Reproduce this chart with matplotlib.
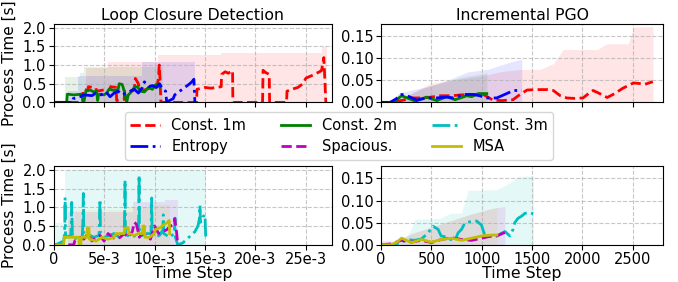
import numpy as np
import matplotlib
matplotlib.use('Agg')
import matplotlib.pyplot as plt

# ---- Loop closure detection, top row (Const. 1m / 2m / Entropy) ----
lcd_1m_x = [0, 290, 292, 340, 345, 420, 425, 560, 565, 620,
            625, 700, 705, 780, 800, 810, 840, 850, 900, 950,
            1000, 1030, 1040, 1047, 1055, 1063, 1417, 1420, 1500, 1560,
            1620, 1660, 1665, 1700, 1730, 1773, 1776, 2070, 2075, 2100,
            2136, 2140, 2308, 2312, 2360, 2420, 2470, 2500, 2560, 2620,
            2654, 2677, 2697]
lcd_1m_y = [0, 0, 0.35, 0.32, 0.42, 0.38, 0.3, 0.36, 0.42, 0.4,
            0.05, 0.08, 0.3, 0.3, 0.35, 0.64, 0.5, 0.35, 0.33, 0.38,
            0.35, 0.5, 0.7, 1.0, 0.6, 0.0, 0.0, 0.35, 0.4, 0.38,
            0.4, 0.42, 0.75, 0.82, 0.78, 0.85, 0.0, 0.0, 0.86, 0.8,
            0.75, 0.0, 0.0, 0.3, 0.35, 0.4, 0.5, 0.65, 0.72, 0.8,
            0.85, 1.2, 0.0]
lcd_1m_fx = [320, 542, 1037, 1654, 2657, 2704]
lcd_1m_fy = [0.93, 1.09, 1.27, 1.33, 1.49, 1.49]

lcd_2m_x = [0, 130, 136, 200, 278, 290, 300, 320, 360, 400,
            425, 437, 445, 460, 500, 525, 550, 600, 640, 650,
            680, 700, 724, 740, 760, 800, 830, 860, 900, 940,
            980, 1000, 1030, 1053]
lcd_2m_y = [0, 0, 0.22, 0.2, 0.22, 0.05, 0.0, 0.3, 0.33, 0.28,
            0.3, 0.05, 0.2, 0.22, 0.2, 0.25, 0.35, 0.32, 0.35, 0.5,
            0.48, 0.3, 0.0, 0.2, 0.25, 0.4, 0.42, 0.3, 0.28, 0.4,
            0.35, 0.45, 0.5, 0.4]
lcd_2m_fx = [113, 260, 300, 1083]
lcd_2m_fy = [0.67, 0.8, 0.95, 0.95]

lcd_ent_x = [0, 190, 195, 260, 300, 380, 420, 470, 520, 560,
             600, 640, 680, 720, 760, 800, 840, 880, 900, 940,
             980, 1020, 1050, 1080, 1110, 1120, 1150, 1185, 1200, 1250,
             1300, 1340, 1370, 1390, 1400]
lcd_ent_y = [0, 0, 0.1, 0.15, 0.2, 0.18, 0.25, 0.2, 0.28, 0.15,
             0.25, 0.3, 0.2, 0.25, 0.3, 0.35, 0.25, 0.4, 0.55, 0.42,
             0.45, 0.4, 0.5, 0.35, 0.3, 0.02, 0.05, 0.1, 0.2, 0.3,
             0.4, 0.48, 0.55, 0.62, 0.0]
lcd_ent_fx = [146, 240, 880, 1400]
lcd_ent_fy = [0.3, 0.7, 1.09, 1.09]

# ---- Incremental PGO, top row ----
pgo_1m_x = [0, 90, 150, 220, 290, 400, 500, 585, 700, 800,
            910, 1015, 1060, 1110, 1200, 1310, 1380, 1450, 1550, 1650,
            1710, 1780, 1845, 1920, 2005, 2060, 2105, 2170, 2245, 2320,
            2400, 2505, 2560, 2620, 2698]
pgo_1m_y = [0, 0, 0.002, 0.005, 0.01, 0.01, 0.012, 0.015, 0.015, 0.017,
            0.018, 0.018, 0.012, 0.005, 0.004, 0.006, 0.018, 0.028, 0.029, 0.029,
            0.027, 0.015, 0.01, 0.009, 0.01, 0.02, 0.027, 0.02, 0.011, 0.02,
            0.032, 0.044, 0.043, 0.041, 0.047]
pgo_1m_fx = [150, 300, 487, 700, 1000, 1200, 1397, 1580, 1710, 1810, 2145, 2245, 2455, 2505, 2700]
pgo_1m_fy = [0.003, 0.02, 0.043, 0.05, 0.06, 0.07, 0.075, 0.075, 0.088, 0.12, 0.12, 0.133, 0.133, 0.171, 0.172]

pgo_2m_x = [0, 120, 205, 338, 454, 553, 652, 735, 851, 900, 966, 1050]
pgo_2m_y = [0, 0, 0.015, 0.003, 0.012, 0.004, 0.013, 0.006, 0.015, 0.013, 0.02, 0.02]
pgo_2m_fx = [100, 200, 300, 450, 600, 800, 1050]
pgo_2m_fy = [0.002, 0.012, 0.02, 0.035, 0.045, 0.057, 0.067]

pgo_ent_x = [0, 90, 150, 205, 260, 354, 450, 550, 650, 720,
             815, 914, 980, 1050, 1149, 1248, 1315, 1397]
pgo_ent_y = [0, 0, 0.008, 0.018, 0.015, 0.005, 0.01, 0.01, 0.012, 0.01,
             0.018, 0.018, 0.015, 0.01, 0.01, 0.02, 0.027, 0.027]
pgo_ent_fx = [100, 170, 300, 450, 600, 860, 1060, 1290, 1397]
pgo_ent_fy = [0.003, 0.02, 0.028, 0.035, 0.045, 0.069, 0.075, 0.092, 0.098]

# ---- Loop closure detection, bottom row (Const. 3m / Spacious / MSA) ----
lcd_3m_x = [0, 20, 100, 110, 114, 118, 130, 170, 176, 180,
            186, 200, 240, 285, 290, 295, 300, 320, 360, 400,
            450, 455, 460, 465, 500, 550, 600, 650, 700, 704,
            708, 712, 730, 780, 840, 844, 847, 851, 880, 920,
            965, 968, 972, 976, 1000, 1050, 1083, 1087, 1091, 1150,
            1195, 1199, 1203, 1207, 1230, 1280, 1320, 1360, 1400, 1430,
            1445, 1450, 1455, 1480, 1500, 1507]
lcd_3m_y = [0, 0, 0.1, 0.3, 1.26, 0.3, 0.2, 0.25, 0.6, 1.13,
            0.3, 0.15, 0.2, 0.25, 0.6, 1.37, 0.3, 0.2, 0.25, 0.2,
            0.25, 0.6, 1.21, 0.3, 0.2, 0.25, 0.3, 0.2, 0.3, 0.8,
            1.73, 0.3, 0.25, 0.2, 0.3, 0.9, 1.86, 0.4, 0.25, 0.3,
            0.3, 0.7, 1.25, 0.3, 0.2, 0.25, 0.4, 0.8, 0.3, 0.2,
            0.3, 0.5, 0.71, 0.2, 0.0, 0.05, 0.15, 0.25, 0.35, 0.5,
            0.7, 1.05, 0.6, 0.75, 0.8, 0.2]
lcd_3m_fx = [20, 114, 1507]
lcd_3m_fy = [0.58, 2.0, 2.0]

lcd_spa_x = [0, 200, 210, 260, 300, 340, 380, 420, 460, 500,
             540, 580, 620, 660, 700, 740, 780, 800, 820, 850,
             880, 920, 960, 1000, 1010, 1040, 1080, 1120, 1160, 1190,
             1200, 1220, 1230]
lcd_spa_y = [0, 0, 0.1, 0.2, 0.15, 0.3, 0.1, 0.2, 0.25, 0.1,
             0.3, 0.2, 0.15, 0.2, 0.3, 0.2, 0.35, 0.6, 0.55, 0.2,
             0.3, 0.25, 0.15, 0.5, 0.45, 0.3, 0.35, 0.4, 0.5, 0.55,
             0.7, 0.3, 0.0]
lcd_spa_fx = [147, 790, 1100, 1236]
lcd_spa_fy = [0.88, 1.13, 1.2, 1.2]

lcd_msa_x = [0, 100, 105, 250, 255, 270, 275, 330, 335, 350,
             355, 420, 480, 540, 600, 620, 700, 705, 740, 745,
             800, 840, 880, 885, 900, 905, 950, 1000, 1005, 1050,
             1100, 1130, 1145, 1150]
lcd_msa_y = [0, 0, 0.2, 0.2, 0.0, 0.0, 0.2, 0.2, 0.45, 0.45,
             0.15, 0.1, 0.2, 0.15, 0.2, 0.3, 0.3, 0.45, 0.45, 0.3,
             0.25, 0.3, 0.3, 0.5, 0.5, 0.2, 0.2, 0.3, 0.4, 0.45,
             0.55, 0.6, 0.65, 0.3]
lcd_msa_fx = [114, 210, 700, 950, 1150]
lcd_msa_fy = [0.66, 0.93, 1.0, 1.06, 1.06]

# ---- Incremental PGO, bottom row ----
pgo_3m_x = [0, 136, 200, 268, 330, 400, 460, 516, 566, 596,
            640, 690, 735, 765, 800, 831, 884, 947, 996, 1030,
            1070, 1112, 1150, 1195, 1231, 1278, 1311, 1328, 1360, 1397,
            1427, 1470, 1510]
pgo_3m_y = [0, 0, 0.005, 0.012, 0.01, 0.013, 0.025, 0.042, 0.035, 0.02,
            0.018, 0.012, 0.01, 0.027, 0.035, 0.049, 0.052, 0.054, 0.045, 0.022,
            0.02, 0.017, 0.02, 0.026, 0.03, 0.02, 0.035, 0.05, 0.06, 0.065,
            0.071, 0.073, 0.07]
pgo_3m_fx = [100, 218, 288, 338, 586, 685, 800, 864, 1149, 1248, 1364, 1513]
pgo_3m_fy = [0.003, 0.01, 0.03, 0.058, 0.06, 0.071, 0.072, 0.123, 0.125, 0.136, 0.155, 0.156]

pgo_spa_x = [0, 100, 200, 300, 400, 500, 600, 700, 800, 900, 1000, 1100, 1150, 1230]
pgo_spa_y = [0, 0.002, 0.01, 0.006, 0.01, 0.005, 0.012, 0.016, 0.012, 0.01, 0.015, 0.02, 0.02, 0.028]
pgo_spa_fx = [0, 150, 200, 300, 500, 700, 900, 1100, 1230]
pgo_spa_fy = [0.01, 0.01, 0.015, 0.025, 0.04, 0.055, 0.07, 0.082, 0.087]

pgo_msa_x = [0, 100, 150, 205, 300, 400, 500, 600, 700, 800, 900, 1000, 1100, 1150]
pgo_msa_y = [0, 0, 0.005, 0.015, 0.005, 0.012, 0.006, 0.012, 0.015, 0.01, 0.015, 0.02, 0.022, 0.022]
pgo_msa_fx = [100, 200, 300, 500, 700, 900, 1150]
pgo_msa_fy = [0.003, 0.012, 0.025, 0.04, 0.055, 0.07, 0.085]

lcd_ticks = [0, 500, 1000, 1500, 2000, 2500]
lcd_ticklabels = ['0', '5e-3', '10e-3', '15e-3', '20e-3', '25e-3']

plt.rcParams['font.family'] = 'DejaVu Sans'
fig = plt.figure(figsize=(6.78, 2.82), dpi=100)
ax_tl = fig.add_axes([0.079, 0.637, 0.411, 0.278])
ax_tr = fig.add_axes([0.562, 0.637, 0.416, 0.278])
ax_bl = fig.add_axes([0.079, 0.132, 0.411, 0.279])
ax_br = fig.add_axes([0.562, 0.132, 0.416, 0.279])

fa = 0.1
lw = 2

def draw(ax, x, y, fx, fy, col, ls, lab, step=False):
    if step:
        ax.fill_between(fx, 0, fy, step='post', color=col, alpha=fa, lw=0)
    else:
        ax.fill_between(fx, 0, fy, color=col, alpha=fa, lw=0)
    return ax.plot(x, y, color=col, ls=ls, lw=lw, label=lab)[0]

h1 = draw(ax_tl, lcd_1m_x, lcd_1m_y, lcd_1m_fx, lcd_1m_fy, 'r', '--', 'Const. 1m', True)
h2 = draw(ax_tl, lcd_2m_x, lcd_2m_y, lcd_2m_fx, lcd_2m_fy, 'g', '-', 'Const. 2m', True)
h4 = draw(ax_tl, lcd_ent_x, lcd_ent_y, lcd_ent_fx, lcd_ent_fy, 'b', '-.', 'Entropy', True)

draw(ax_tr, pgo_1m_x, pgo_1m_y, pgo_1m_fx, pgo_1m_fy, 'r', '--', None)
draw(ax_tr, pgo_2m_x, pgo_2m_y, pgo_2m_fx, pgo_2m_fy, 'g', '-', None)
draw(ax_tr, pgo_ent_x, pgo_ent_y, pgo_ent_fx, pgo_ent_fy, 'b', '-.', None)

h3 = draw(ax_bl, lcd_3m_x, lcd_3m_y, lcd_3m_fx, lcd_3m_fy, 'c', '-.', 'Const. 3m', True)
h5 = draw(ax_bl, lcd_spa_x, lcd_spa_y, lcd_spa_fx, lcd_spa_fy, 'm', '--', 'Spacious.', True)
h6 = draw(ax_bl, lcd_msa_x, lcd_msa_y, lcd_msa_fx, lcd_msa_fy, 'y', '-', 'MSA', True)

draw(ax_br, pgo_3m_x, pgo_3m_y, pgo_3m_fx, pgo_3m_fy, 'c', '-.', None)
draw(ax_br, pgo_spa_x, pgo_spa_y, pgo_spa_fx, pgo_spa_fy, 'm', '--', None)
draw(ax_br, pgo_msa_x, pgo_msa_y, pgo_msa_fx, pgo_msa_fy, 'y', '-', None)

for ax in (ax_tl, ax_bl):
    ax.set_xlim(0, 2760)
    ax.set_ylim(0, 2.1)
    ax.set_yticks([0, 0.5, 1.0, 1.5, 2.0])
    ax.set_ylabel('Process Time [s]', fontsize=11)
for ax in (ax_tr, ax_br):
    ax.set_xlim(0, 2800)
    ax.set_ylim(0, 0.178)
    ax.set_yticks([0, 0.05, 0.10, 0.15])
for ax in (ax_tl, ax_tr, ax_bl, ax_br):
    ax.grid(True, ls='--', color='#b0b0b0', alpha=0.7, lw=0.8)
    ax.tick_params(labelsize=10.5, pad=2)

ax_tl.set_xticks(lcd_ticks)
ax_tl.set_xticklabels([])
ax_bl.set_xticks(lcd_ticks)
ax_bl.set_xticklabels(lcd_ticklabels)
ax_tr.set_xticks([0, 500, 1000, 1500, 2000, 2500])
ax_tr.set_xticklabels([])
ax_br.set_xticks([0, 500, 1000, 1500, 2000, 2500])

ax_tl.set_title('Loop Closure Detection', fontsize=11.3, pad=3)
ax_tr.set_title('Incremental PGO', fontsize=11.3, pad=3)
ax_bl.set_xlabel('Time Step', fontsize=11.3, labelpad=-1)
ax_br.set_xlabel('Time Step', fontsize=11.3, labelpad=-1)

fig.legend(handles=[h1, h4, h2, h5, h3, h6], loc='center', bbox_to_anchor=(0.5, 0.518),
           ncol=3, fontsize=10.5, columnspacing=2.4, handlelength=2, borderpad=0.4,
           labelspacing=0.45)

fig.savefig('out.png', dpi=100)
